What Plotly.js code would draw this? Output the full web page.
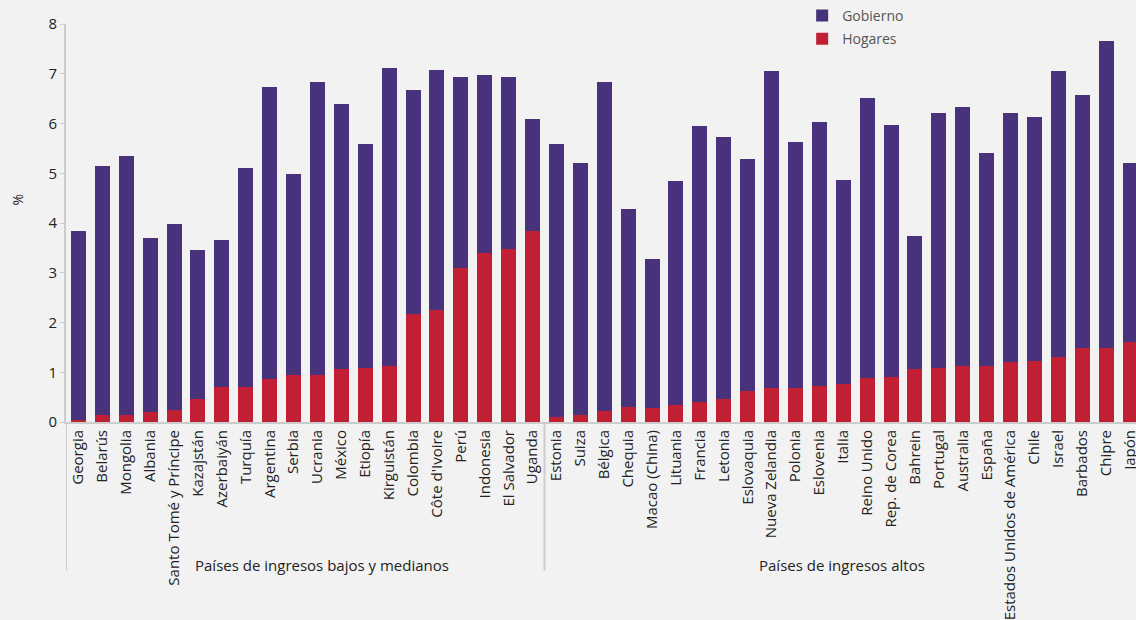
<!DOCTYPE html>
<html>
<head>
<meta charset="utf-8">
<script src="https://cdn.plot.ly/plotly-3.0.1.min.js"></script>
<style>
html,body{margin:0;padding:0;background:#f2f2f2;}
#chart{width:1136px;height:620px;}
</style>
</head>
<body>
<div id="chart"></div>
<script>
const countries = [
  "Georgia","Belarús","Mongolia","Albania","Santo Tomé y Príncipe","Kazajstán","Azerbaiyán","Turquía","Argentina","Serbia",
  "Ucrania","México","Etiopía","Kirguistán","Colombia","Côte d'Ivoire","Perú","Indonesia","El Salvador","Uganda",
  "Estonia","Suiza","Bélgica","Chequia","Macao (China)","Lituania","Francia","Letonia","Eslovaquia","Nueva Zelandia",
  "Polonia","Eslovenia","Italia","Reino Unido","Rep. de Corea","Bahrein","Portugal","Australia","España","Estados Unidos de América",
  "Chile","Israel","Barbados","Chipre","Japón"
];
const hogares = [
  0.05,0.15,0.15,0.21,0.25,0.47,0.71,0.71,0.87,0.95,
  0.95,1.07,1.09,1.13,2.17,2.25,3.09,3.39,3.47,3.83,
  0.11,0.15,0.23,0.31,0.29,0.35,0.41,0.47,0.63,0.69,
  0.69,0.73,0.77,0.89,0.91,1.07,1.09,1.13,1.13,1.21,
  1.23,1.31,1.49,1.49,1.61
];
const gobierno = [
  3.78,5.00,5.20,3.48,3.74,2.98,2.94,4.40,5.86,4.04,
  5.88,5.32,4.50,5.98,4.50,4.82,3.84,3.58,3.46,2.26,
  5.48,5.06,6.60,3.98,2.98,4.50,5.54,5.26,4.66,6.36,
  4.94,5.30,4.10,5.62,5.06,2.66,5.12,5.20,4.28,5.00,
  4.90,5.74,5.08,6.16,3.60
];
const groupLabels = ["Países de ingresos bajos y medianos","Países de ingresos altos"];
const yTicks = [0,1,2,3,4,5,6,7,8];

const xIdx = countries.map((c,i)=>i);
const FONT = "Open Sans, Noto Sans, sans-serif";

const traces = [
  {type:'bar', name:'Hogares', x:xIdx, y:hogares, marker:{color:'#c12034'}, legendgroup:'h', legendrank:2, hoverinfo:'x+y'},
  {type:'bar', name:'Gobierno', x:xIdx, y:gobierno, marker:{color:'#48327c'}, legendgroup:'g', legendrank:1, hoverinfo:'x+y'}
];

const sepY = -0.373;
const layout = {
  width:1136, height:620,
  paper_bgcolor:'#f2f2f2', plot_bgcolor:'#f2f2f2',
  font:{family:FONT, color:'#222', size:14},
  barmode:'stack', bargap:0.37,
  margin:{l:66, r:0, t:23, b:198},
  xaxis:{
    range:[-0.52,44.25], tickmode:'array', tickvals:xIdx, ticktext:countries,
    tickangle:-90, ticks:'', showline:true, linecolor:'#cccccc', linewidth:2,
    showgrid:false, zeroline:false, tickfont:{size:15, color:'#222'},
    ticklabeloverflow:'allow', fixedrange:true
  },
  yaxis:{
    range:[0,8], tickvals:yTicks, ticks:'outside', ticklen:4, tickcolor:'#cccccc', tickwidth:1,
    showline:true, linecolor:'#cccccc', linewidth:2, showgrid:false, zeroline:false,
    tickfont:{size:15, color:'#222'}
  },
  legend:{
    x:0.688, xanchor:'left', y:1.06, yanchor:'top', bgcolor:'rgba(0,0,0,0)',
    font:{size:14, color:'#555'}, itemwidth:30, traceorder:'grouped', tracegroupgap:2
  },
  shapes:[
    {type:'line', xref:'x', yref:'paper', x0:-0.52, x1:-0.52, y0:0, y1:sepY, line:{color:'#cccccc', width:2}},
    {type:'line', xref:'x', yref:'paper', x0:19.5, x1:19.5, y0:0, y1:sepY, line:{color:'#cccccc', width:2}}
  ],
  annotations:[
    {text:'%', xref:'paper', yref:'paper', x:(18-66)/1070, y:(422-199)/399, xanchor:'center', yanchor:'middle', textangle:-90, showarrow:false, font:{size:14, color:'#222'}},
    {text:groupLabels[0], xref:'paper', yref:'paper', x:(322-66)/1070, y:-(565-422)/399, xanchor:'center', yanchor:'middle', showarrow:false, font:{size:15, color:'#222'}},
    {text:groupLabels[1], xref:'paper', yref:'paper', x:(842-66)/1070, y:-(565-422)/399, xanchor:'center', yanchor:'middle', showarrow:false, font:{size:15, color:'#222'}}
  ]
};
Plotly.newPlot('chart', traces, layout, {displayModeBar:false, staticPlot:true});
</script>
</body>
</html>
